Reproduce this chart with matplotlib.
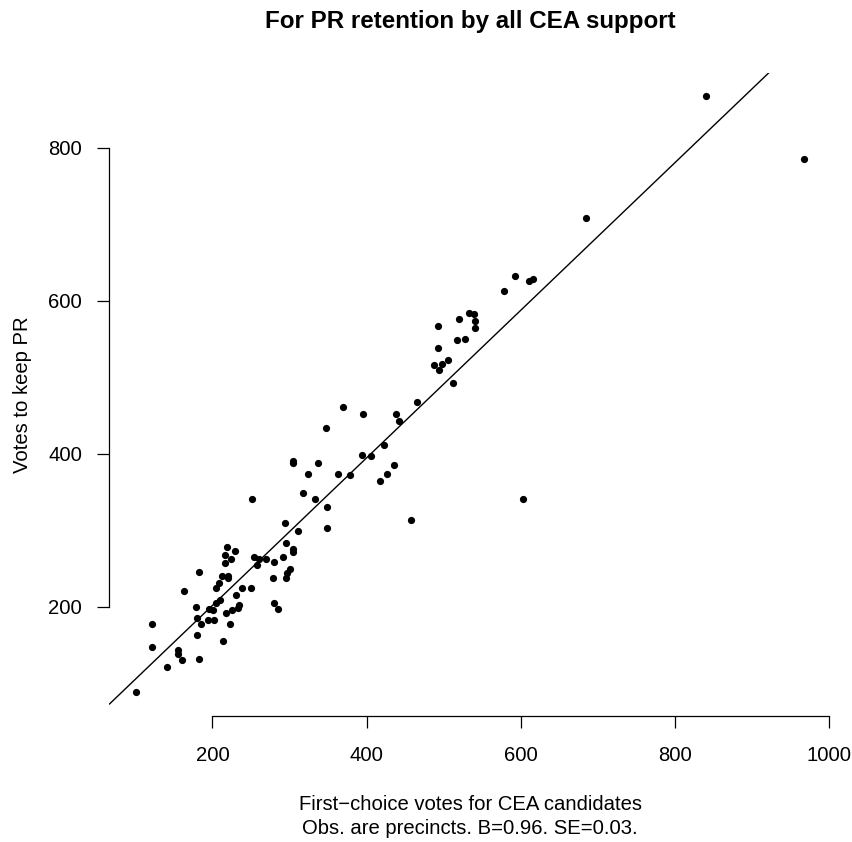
import numpy as np
import matplotlib.pyplot as plt

# first-choice votes for CEA candidates (x) and votes to keep PR (y), per precinct
cea_votes = [840, 968, 685, 603, 593, 611, 616, 579, 533, 540, 541, 541, 520, 493,
             517, 528, 493, 506, 487, 498, 494, 512, 465, 369, 395, 438, 442, 347,
             423, 394, 406, 304, 304, 337, 324, 363, 379, 435, 427, 417, 251, 318,
             333, 348, 458, 294, 311, 349, 295, 304, 305, 219, 229, 216, 224, 216,
             182, 212, 220, 220, 209, 205, 163, 238, 250, 254, 261, 269, 258, 280,
             291, 279, 300, 297, 295, 231, 235, 233, 225, 218, 210, 205, 196, 201,
             178, 180, 185, 194, 202, 223, 280, 285, 180, 213, 155, 121, 121, 155,
             160, 183, 141, 101]
keep_pr = [867, 785, 708, 341, 632, 626, 629, 613, 584, 583, 573, 565, 576, 567,
           549, 550, 538, 523, 516, 517, 509, 493, 468, 461, 452, 452, 443, 433,
           411, 398, 397, 391, 388, 388, 374, 373, 372, 385, 373, 364, 341, 349,
           341, 331, 313, 310, 299, 303, 283, 275, 271, 278, 273, 268, 262, 257,
           246, 240, 240, 237, 231, 224, 221, 225, 225, 265, 262, 262, 255, 258,
           265, 238, 250, 244, 237, 215, 202, 199, 196, 192, 209, 205, 197, 196,
           200, 185, 177, 183, 183, 177, 205, 197, 163, 155, 143, 177, 147, 138,
           131, 132, 121, 88]

intercept = 9.0
slope = 0.964

x_ticks = [200, 400, 600, 800, 1000]
y_ticks = [200, 400, 600, 800]

title = 'For PR retention by all CEA support'
xlab1 = 'First\u2212choice votes for CEA candidates'
xlab2 = 'Obs. are precincts. B=0.96. SE=0.03.'
ylab = 'Votes to keep PR'

plt.rcParams['font.family'] = ['Liberation Sans', 'DejaVu Sans']

fig = plt.figure(figsize=(8.53, 8.42), dpi=100)
W, H = 853, 842
left, right, top, bottom = 109.5, 830.9, 72.6, 716.3
ax = fig.add_axes([left/W, 1-bottom/H, (right-left)/W, (bottom-top)/H])

x = np.array(cea_votes)
y = np.array(keep_pr)
ax.plot(x, y, 'o', color='black', markersize=5.2, markeredgewidth=0)

# R style 4% padding
xr = x.max()-x.min()
yr = y.max()-y.min()
ax.set_xlim(x.min()-0.04*xr, x.max()+0.04*xr)
ax.set_ylim(y.min()-0.04*yr, y.max()+0.04*yr)

xl = np.array(ax.get_xlim())
ax.plot(xl, intercept+slope*xl, color='black', lw=1.0)
ax.set_xlim(xl)

ax.spines['top'].set_visible(False)
ax.spines['right'].set_visible(False)
ax.spines['left'].set_bounds(y_ticks[0], y_ticks[-1])
ax.spines['bottom'].set_bounds(x_ticks[0], x_ticks[-1])
ax.spines['left'].set_linewidth(0.9)
ax.spines['bottom'].set_linewidth(0.9)
ax.set_xticks(x_ticks)
ax.set_yticks(y_ticks)
ax.tick_params(length=8.7, width=0.9, labelsize=14.6)
ax.tick_params(axis='x', pad=13)
ax.tick_params(axis='y', pad=11)

cx = 0.5*(left+right)/W
fig.text(cx, 1-810/H, xlab1, ha='center', va='baseline', fontsize=14.6)
fig.text(cx, 1-834/H, xlab2, ha='center', va='baseline', fontsize=14.6)
fig.text(32/W, 1-0.5*(top+bottom)/H, ylab, ha='right', va='center',
         rotation=90, fontsize=14.6)
fig.text(cx, 1-28/H, title, ha='center', va='baseline',
         fontsize=17.4, fontweight='bold')

plt.savefig('out.png', dpi=100)
